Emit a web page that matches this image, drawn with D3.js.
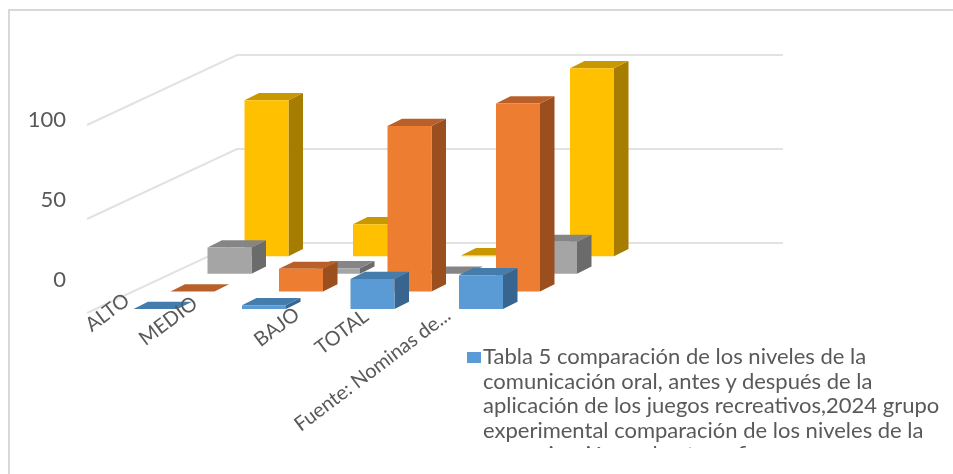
<!DOCTYPE html>
<html><head><meta charset="utf-8">
<script src="https://cdnjs.cloudflare.com/ajax/libs/d3/7.8.5/d3.min.js"></script>
<style>html,body{margin:0;padding:0;background:#fff;overflow:hidden}svg{display:block;filter:blur(.45px)}text{font-family:Lato,"Open Sans",sans-serif;fill:#595959}</style>
</head><body><svg id="c" width="953" height="474"></svg>
<script>
// ---- data ----
const categories = ["ALTO","MEDIO","BAJO","TOTAL","Fuente: Nominas de..."];
const seriesNames = ["Serie A","Serie B","Serie C","Serie D"];
const serieA = [0,2,16,18,null];
const serieB = [0,12,88,100,null];
const serieC = [14,3,0,17,null];
const serieD = [83,17,0.5,100,null];
const axisTicks = [0,50,100];
const legendLines = ["Tabla 5 comparación de los niveles de la","comunicación oral, antes y después de la","aplicación de los juegos recreativos,2024 grupo","experimental comparación de los niveles de la","comunicación oral antes y fi"];
// ---- layout ----
const seriesValues = [serieA,serieB,serieC,serieD];
const palette = [
 {front:"#5b9bd5",top:"#447cab",side:"#38658f"},
 {front:"#ed7d31",top:"#b9602a",side:"#9b4f1e"},
 {front:"#a5a5a5",top:"#858585",side:"#6b6b6b"},
 {front:"#ffc000",top:"#c99700",side:"#a67d00"}];
const labelEnds = [[131,303],[199,306],[301,317],[370,319],[452,318]];

const svg = d3.select("#c");
const x = d3.scalePoint().domain(categories).range([133.5,567.5]);
const depth = d3.scalePoint().domain(seriesNames).range([0,3]);
const h = d3.scaleLinear().domain([0,100]).range([0,188]);
const barW = 44, sideX = 14.5, sideY = 7.2, stepX = 37, stepY = 17.6, baseY = 309;
const poly = pts => d3.line()(pts)+"Z";

// frame
svg.append("path").attr("d",d3.line()([[9,474],[9,10],[953,10]])).attr("fill","none").attr("stroke","#d9d9d9").attr("stroke-width",2);

// gridlines
const backZero = 243, gridFrontX = 87, gridBackX = 237, gridEndX = 783, wall = 70;
svg.append("g").selectAll("path").data(axisTicks).join("path")
  .attr("d",v=>d3.line()([[gridFrontX,backZero-h(v)+wall],[gridBackX,backZero-h(v)],[gridEndX,backZero-h(v)]]))
  .attr("fill","none").attr("stroke","#e2e2e2").attr("stroke-width",2);

// value axis labels
const yAxis = d3.scaleLinear().domain([0,100]).range([279,119]);
const ag = svg.append("g").attr("transform","translate(66,0)").call(d3.axisLeft(yAxis).tickValues(axisTicks).tickSize(0).tickPadding(0));
ag.select(".domain").remove();
ag.selectAll("text").style("font-family","Lato").style("font-size","22px").attr("fill","#595959");

// bars: back series first
seriesNames.slice().reverse().forEach(name=>{
  const si = seriesNames.indexOf(name), d = depth(name), c = palette[si];
  const g = svg.append("g");
  categories.forEach((cat,i)=>{
    const v = seriesValues[si][i];
    if(v===null) return;
    const x0 = x(cat)+d*stepX, y0 = baseY-d*stepY, t = y0-h(v), x1 = x0+barW;
    g.append("path").attr("d",poly([[x1,y0],[x1+sideX,y0-sideY],[x1+sideX,t-sideY],[x1,t]])).attr("fill",c.side);
    g.append("path").attr("d",poly([[x0,t],[x0+sideX,t-sideY],[x1+sideX,t-sideY],[x1,t]])).attr("fill",c.top);
    g.append("path").attr("d",poly([[x0,y0],[x1,y0],[x1,t],[x0,t]])).attr("fill",c.front);
  });
});

// category labels
svg.append("g").selectAll("text").data(categories).join("text")
  .attr("transform",(d,i)=>`translate(${labelEnds[i]}) rotate(-37)`)
  .attr("text-anchor","end").style("font-size","20px").text(d=>d);

// legend
svg.append("clipPath").attr("id","lc").append("rect").attr("x",460).attr("y",340).attr("width",493).attr("height",108);
svg.append("rect").attr("x",467).attr("y",352).attr("width",14).attr("height",11).attr("fill",palette[0].front);
const lg = svg.append("g").attr("clip-path","url(#lc)");
lg.selectAll("text").data(legendLines).join("text")
  .attr("x",483).attr("y",(d,i)=>364+i*24.5).style("font-size","22px").text(d=>d);
</script></body></html>
